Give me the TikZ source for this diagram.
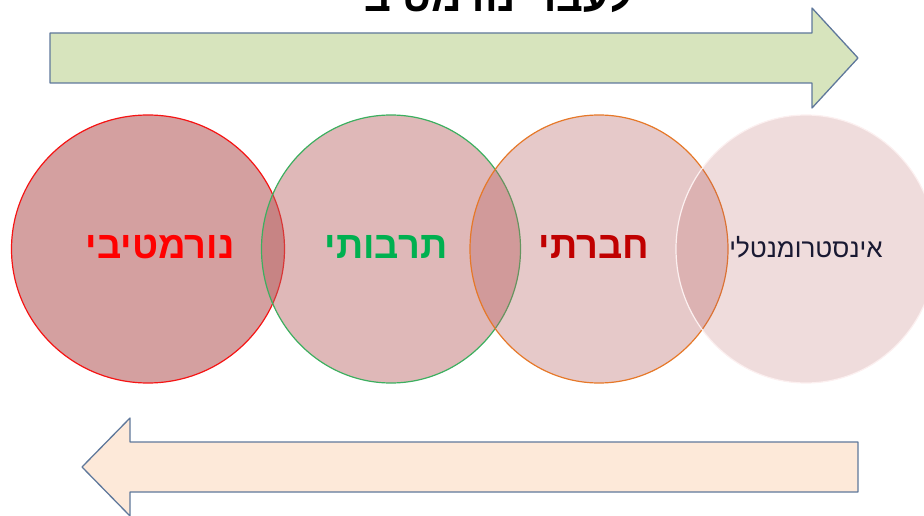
\documentclass[tikz,border=0pt]{standalone}
\usepackage{fontspec}
\setmainfont{Liberation Sans}
\newfontfamily\hebfont[Script=Hebrew,BoldFont={Liberation Sans Bold}]{Liberation Sans}
\TeXXeTstate=1
\usetikzlibrary{shapes.geometric}
\definecolor{arrowline}{RGB}{95,120,155}
\definecolor{greenfill}{RGB}{215,228,189}
\definecolor{peachfill}{RGB}{253,233,217}
\definecolor{circlebase}{RGB}{183,97,97}
\definecolor{redline}{RGB}{245,20,20}
\definecolor{greenline}{RGB}{60,175,95}
\definecolor{orangeline}{RGB}{230,120,40}
\definecolor{lightline}{RGB}{252,240,240}
\definecolor{greentext}{RGB}{0,176,80}
\definecolor{darkredtext}{RGB}{192,0,0}
\definecolor{navytext}{RGB}{25,25,50}
\begin{document}
\begin{tikzpicture}
[x=1pt,y=-1pt,
  circledecorate/.style={shape=ellipse,draw,line width=1.2pt,minimum height=268pt,inner sep=0pt,fill=circlebase},%
  arrowdecorate/.style={draw=arrowline,line width=1.3pt,line join=round},%
  labeldecorate/.style={font=\hebfont\bfseries\fontsize{38}{44}\selectfont}]
\useasboundingbox (0,0) rectangle (924,516);
%% arrows
\draw[arrowdecorate,fill=greenfill] (50,33) -- (812,33) -- (812,8) -- (858,58)
  -- (812,108) -- (812,83) -- (50,83) -- cycle;
\draw[arrowdecorate,fill=peachfill] (858,442) -- (130,442) -- (130,418) -- (82,467)
  -- (130,516) -- (130,492) -- (858,492) -- cycle;
\node (title) at (492,12) [anchor=base,labeldecorate,font=\hebfont\bfseries\fontsize{42}{48}\selectfont]
  {\beginR לעבר־נורמטיבי\endR};
%% circles
\foreach \nodename/\x/\w/\opac/\col in {normativ/148/273/0.6/redline,
  tarbuti/391/259/0.45/greenline, hevrati/599/258/0.34/orangeline,
  instrument/806/260/0.22/lightline} {
  \node (\nodename) at (\x,249) [circledecorate,minimum width=\w pt,fill opacity=\opac,draw=\col] {};
}
%% labels
\node (normativlabel) at (160,247) [labeldecorate,text=red] {\beginR נורמטיבי\endR};
\node (tarbutilabel) at (386,247) [labeldecorate,text=greentext] {\beginR תרבותי\endR};
\node (hevratilabel) at (594,247) [labeldecorate,text=darkredtext] {\beginR חברתי\endR};
\node (instrumentlabel) at (806,247) [text=navytext,font=\hebfont\fontsize{26}{30}\selectfont]
  {\beginR אינסטרומנטלי\endR};
\end{tikzpicture}
\end{document}
